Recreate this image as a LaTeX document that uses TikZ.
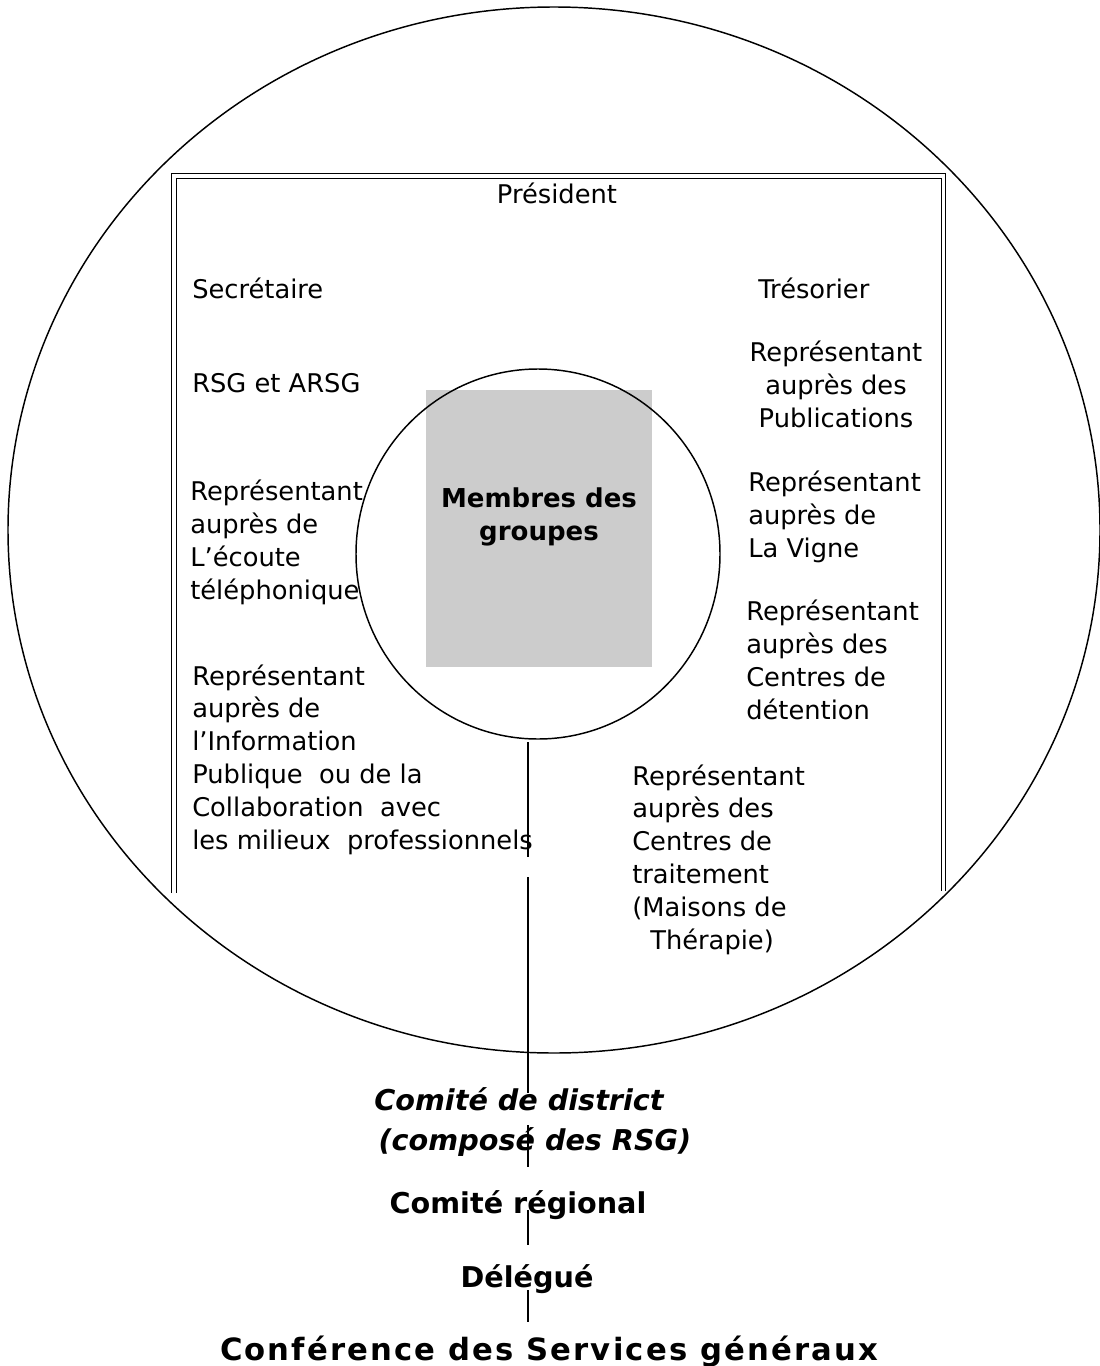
\documentclass[tikz,border=0pt]{standalone}
\usepackage{fontspec}
\setmainfont{DejaVu Sans}

\begin{document}
\begin{tikzpicture}[x=0.75pt,y=0.75pt,yscale=-1,
  txt/.style={inner sep=0pt,align=left,font=\fontsize{19.3}{24.6}\selectfont},
  ctxt/.style={txt,align=center},
  titre/.style={inner sep=0pt,font=\fontsize{21.5}{26}\selectfont\bfseries},
  trait/.style={line width=1.1pt}]
\useasboundingbox (0,0) rectangle (1099,1366);

%Big circle
\draw [trait] (554,530) ellipse [x radius=546,y radius=523];
%Double frame
\draw [line width=1pt,double,double distance=2.4pt] (174,893) -- (174,176) -- (943.5,176) -- (943.5,891);
%Inner circle and box
\fill [black!20] (426,390) rectangle (652,667);
\draw [trait] (538,554) ellipse [x radius=182,y radius=185];

% Text Node (base = last line)
\node (pres) [txt,anchor=base] at (557,204) {Président};
\node (secr) [txt,anchor=base west] at (192,298) {Secrétaire};
\node (treso) [txt,anchor=base west] at (758,298) {Trésorier};
\node (rsg) [txt,anchor=base west] at (192,392) {RSG et ARSG};
\node (pub) [ctxt,anchor=base] at (836,427) {Représentant\\auprès des\\Publications};
\node (ecoute) [txt,anchor=base west] at (190,599) {Représentant\\auprès de\\L’écoute\\téléphonique};
\node (membres) [ctxt,anchor=base,font=\fontsize{19.5}{24.6}\selectfont\bfseries] at (539,540) {Membres des\\groupes};
\node (vigne) [txt,anchor=base west] at (748,557) {Représentant\\auprès de\\La Vigne};
\node (detention) [txt,anchor=base west] at (746,719) {Représentant\\auprès des\\Centres de\\détention};
\node (info) [txt,anchor=base west] at (192,849) {Représentant\\auprès de\\l’Information\\Publique\ \ ou de la\\Collaboration\ \ avec\\les milieux\ \ professionnels};
\node (traitement) [txt,anchor=base west] at (632,949) {Représentant\\auprès des\\Centres de\\traitement\\(Maisons de\\\hspace*{0.7em}Thérapie)};

\node (district) [titre,anchor=base,font=\fontsize{21.5}{26}\selectfont\bfseries\itshape] at (519,1110) {Comité de district};
\node (compose) [titre,anchor=base,font=\fontsize{21.5}{26}\selectfont\bfseries\itshape] at (535,1150) {(composé des RSG)};
\node (regional) [titre,anchor=base] at (518,1213) {Comité régional};
\node (delegue) [titre,anchor=base] at (527,1287) {Délégué};
\node (conf) [titre,anchor=base,font=\fontsize{23}{26}\selectfont\bfseries\addfontfeature{LetterSpace=7}] at (549,1360) {Conférence des Services généraux};

%Links
\coordinate (a1) at (528,742);
\coordinate (a2) at (528,857);
\coordinate (b1) at (528,877);
\coordinate (b2) at (528,1093);
\coordinate (c1) at (528,1125);
\coordinate (c2) at (528,1167);
\coordinate (d1) at (528,1210);
\coordinate (d2) at (528,1245);
\coordinate (e1) at (528,1290);
\coordinate (e2) at (528,1322);
\draw [trait] (a1) -- (a2);
\draw [trait] (b1) -- (b2);
\draw [trait] (c1) -- (c2);
\draw [trait] (d1) -- (d2);
\draw [trait] (e1) -- (e2);
\end{tikzpicture}
\end{document}
